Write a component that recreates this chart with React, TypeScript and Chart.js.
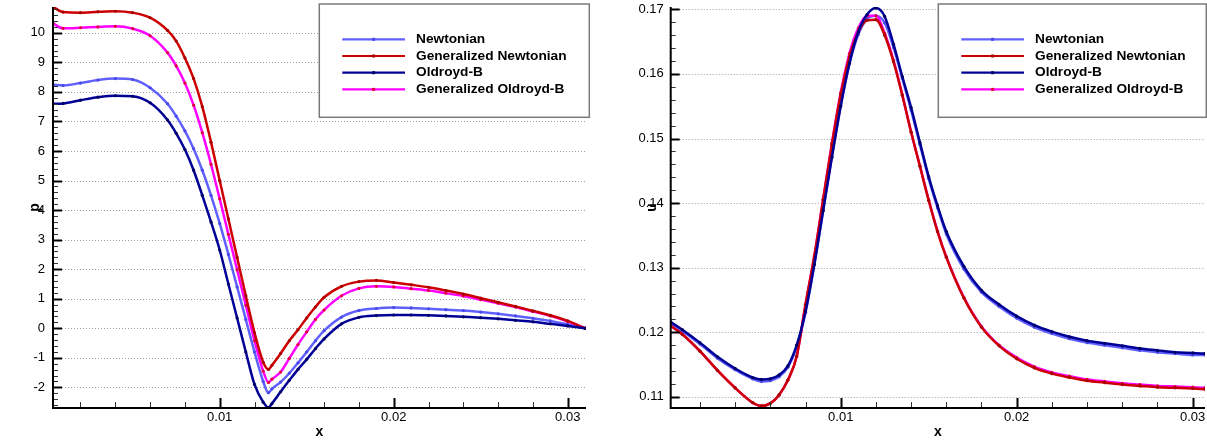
import { useEffect, useRef } from 'react';
import { Chart, registerables } from 'chart.js';

Chart.register(...registerables);

const FONT = '"Liberation Sans", Arial, Helvetica, sans-serif';

// ---------- series meta ----------
const seriesLabels = ['Newtonian', 'Generalized Newtonian', 'Oldroyd-B', 'Generalized Oldroyd-B'];
const lineColors = ['#6060ff', '#cc0000', '#000096', '#ff00ff'];
const markerColors = ['#4a4ae8', '#a80000', '#000066', '#e0003c'];
const drawOrder = [3, 1, 0, 2];

// ---------- left chart: pressure p ----------
const pX = [0.00042, 0.001, 0.002, 0.003, 0.004, 0.005, 0.006, 0.007, 0.0075, 0.008, 0.0085, 0.009, 0.0095, 0.01, 0.0105, 0.011, 0.0115, 0.012, 0.0125, 0.0128, 0.013, 0.0135, 0.014, 0.0145, 0.015, 0.0155, 0.016, 0.017, 0.018, 0.019, 0.02, 0.021, 0.022, 0.023, 0.024, 0.025, 0.026, 0.027, 0.028, 0.029, 0.03, 0.031];
const pNewtonian = [8.24, 8.22, 8.30, 8.40, 8.45, 8.42, 8.14, 7.60, 7.18, 6.68, 6.08, 5.35, 4.50, 3.55, 2.50, 1.40, 0.30, -0.80, -1.80, -2.18, -2.05, -1.82, -1.52, -1.17, -0.80, -0.42, -0.08, 0.38, 0.60, 0.67, 0.70, 0.69, 0.66, 0.63, 0.60, 0.55, 0.49, 0.42, 0.34, 0.25, 0.13, 0.0];
const pGenNewtonian = [10.88, 10.70, 10.68, 10.71, 10.73, 10.68, 10.51, 10.08, 9.72, 9.15, 8.45, 7.50, 6.30, 5.00, 3.70, 2.40, 1.10, -0.15, -1.15, -1.39, -1.25, -0.85, -0.42, -0.05, 0.35, 0.72, 1.05, 1.42, 1.58, 1.62, 1.55, 1.47, 1.39, 1.28, 1.16, 1.02, 0.88, 0.74, 0.59, 0.44, 0.25, 0.0];
const pOldroydB = [7.60, 7.61, 7.72, 7.82, 7.87, 7.85, 7.63, 7.05, 6.60, 6.05, 5.35, 4.50, 3.60, 2.65, 1.50, 0.35, -0.80, -1.90, -2.50, -2.68, -2.55, -2.15, -1.76, -1.39, -1.05, -0.69, -0.36, 0.15, 0.37, 0.43, 0.45, 0.45, 0.44, 0.42, 0.39, 0.36, 0.32, 0.27, 0.22, 0.15, 0.08, 0.0];
const pGenOldroydB = [10.32, 10.15, 10.17, 10.20, 10.22, 10.14, 9.90, 9.33, 8.88, 8.30, 7.55, 6.62, 5.55, 4.38, 3.18, 1.98, 0.78, -0.42, -1.45, -1.83, -1.72, -1.48, -1.02, -0.55, -0.12, 0.30, 0.62, 1.10, 1.35, 1.42, 1.40, 1.34, 1.28, 1.19, 1.09, 0.97, 0.85, 0.72, 0.57, 0.42, 0.23, 0.0];

// ---------- right chart: velocity u ----------
const uX = [0.00034, 0.001, 0.002, 0.003, 0.004, 0.005, 0.0055, 0.006, 0.0065, 0.007, 0.0075, 0.008, 0.0085, 0.009, 0.0095, 0.01, 0.0105, 0.011, 0.0115, 0.012, 0.0125, 0.013, 0.0135, 0.014, 0.0145, 0.015, 0.0155, 0.016, 0.017, 0.018, 0.019, 0.02, 0.021, 0.022, 0.023, 0.024, 0.025, 0.026, 0.027, 0.028, 0.029, 0.03, 0.0307];
const uNewtonian = [0.1214, 0.1202, 0.1182, 0.1160, 0.1142, 0.1128, 0.1124, 0.1125, 0.1131, 0.1146, 0.1178, 0.1231, 0.1305, 0.1388, 0.1472, 0.1551, 0.1616, 0.1661, 0.1685, 0.1690, 0.1679, 0.1641, 0.1593, 0.1544, 0.1491, 0.1438, 0.1393, 0.1352, 0.1298, 0.1262, 0.1240, 0.1222, 0.1208, 0.1198, 0.1190, 0.1184, 0.1180, 0.1176, 0.1172, 0.1169, 0.1167, 0.1165, 0.1165];
const uGenNewtonian = [0.1210, 0.1197, 0.1171, 0.1141, 0.1114, 0.1091, 0.1086, 0.1090, 0.1103, 0.1126, 0.1163, 0.1243, 0.1318, 0.1405, 0.1491, 0.1568, 0.1627, 0.1665, 0.1683, 0.1684, 0.1660, 0.1619, 0.1567, 0.1510, 0.1457, 0.1404, 0.1356, 0.1316, 0.1253, 0.1208, 0.1179, 0.1159, 0.1145, 0.1136, 0.1130, 0.1125, 0.1122, 0.1119, 0.1117, 0.1115, 0.1114, 0.1113, 0.1112];
const uOldroydB = [0.1216, 0.1204, 0.1184, 0.1162, 0.1144, 0.1130, 0.1127, 0.1128, 0.1134, 0.1148, 0.1180, 0.1232, 0.1305, 0.1388, 0.1471, 0.1550, 0.1617, 0.1665, 0.1692, 0.1702, 0.1689, 0.1646, 0.1596, 0.1548, 0.1494, 0.1441, 0.1396, 0.1356, 0.1302, 0.1265, 0.1243, 0.1225, 0.1211, 0.1201, 0.1193, 0.1187, 0.1183, 0.1179, 0.1175, 0.1172, 0.1169, 0.1168, 0.1167];
const uGenOldroydB = [0.1210, 0.1197, 0.1171, 0.1141, 0.1114, 0.1091, 0.1086, 0.1090, 0.1103, 0.1126, 0.1163, 0.1243, 0.1318, 0.1406, 0.1493, 0.1571, 0.1632, 0.1671, 0.1690, 0.1690, 0.1663, 0.1621, 0.1568, 0.1510, 0.1458, 0.1405, 0.1357, 0.1317, 0.1254, 0.1209, 0.1180, 0.1161, 0.1147, 0.1138, 0.1132, 0.1127, 0.1124, 0.1121, 0.1119, 0.1117, 0.1116, 0.1115, 0.1114];

// ---------- ticks ----------
const xMajorTicks = [0.01, 0.02, 0.03];
const xMinorStep = 0.002;
const pMajorTicks = [-2, -1, 0, 1, 2, 3, 4, 5, 6, 7, 8, 9, 10];
const pMinorStep = 0.2;
const uMajorTicks = [0.11, 0.12, 0.13, 0.14, 0.15, 0.16, 0.17];
const uMinorStep = 0.002;

const majorTicks = (list: number[]) => (scale: any) => {
  scale.ticks = list
    .filter((v) => v >= scale.min - 1e-12 && v <= scale.max + 1e-12)
    .map((v) => ({ value: v }));
};

const axesPlugin = {
  id: 'axesDecor',
  beforeDatasetsDraw(chart: any) {
    const { ctx, chartArea } = chart;
    const ys = chart.scales.y;
    ctx.save();
    ctx.strokeStyle = '#9c9c9c';
    ctx.lineWidth = 1;
    ctx.setLineDash([1, 2]);
    ys.ticks.forEach((t: any) => {
      const py = Math.round(ys.getPixelForValue(t.value)) + 0.5;
      ctx.beginPath();
      ctx.moveTo(chartArea.left, py);
      ctx.lineTo(chartArea.right, py);
      ctx.stroke();
    });
    ctx.restore();
  },
  afterDatasetsDraw(chart: any, _args: any, opts: any) {
    const { ctx, chartArea } = chart;
    const { left, right, top, bottom } = chartArea;
    const xs = chart.scales.x;
    const ys = chart.scales.y;
    const isMajor = (v: number, list: number[], step: number) => list.some((m) => Math.abs(m - v) < step / 10);
    const vals = (min: number, max: number, step: number) => {
      const out: number[] = [];
      for (let k = Math.ceil(min / step - 1e-6); k * step <= max + 1e-12; k++) out.push(k * step);
      return out;
    };
    ctx.save();
    ctx.setLineDash([]);
    vals(xs.min, xs.max, opts.xStep).forEach((v) => {
      const major = isMajor(v, opts.xMajor, opts.xStep);
      const px = Math.round(xs.getPixelForValue(v)) + 0.5;
      ctx.strokeStyle = major ? '#000' : '#333';
      ctx.lineWidth = major ? 2 : 1;
      ctx.beginPath();
      ctx.moveTo(px, bottom);
      ctx.lineTo(px, bottom - (major ? 10 : 6));
      ctx.stroke();
    });
    vals(ys.min, ys.max, opts.yStep).forEach((v) => {
      const major = isMajor(v, opts.yMajor, opts.yStep);
      const py = Math.round(ys.getPixelForValue(v)) + 0.5;
      ctx.strokeStyle = major ? '#000' : '#333';
      ctx.lineWidth = major ? 2 : 1;
      ctx.beginPath();
      ctx.moveTo(left, py);
      ctx.lineTo(left + (major ? 9 : 5), py);
      ctx.stroke();
    });
    ctx.strokeStyle = '#000';
    ctx.lineWidth = 2;
    ctx.beginPath();
    ctx.moveTo(left, top);
    ctx.lineTo(left, bottom);
    ctx.lineTo(right, bottom);
    ctx.stroke();
    ctx.restore();
  },
};

const boxLegendPlugin = {
  id: 'boxLegend',
  afterDraw(chart: any, _args: any, opts: any) {
    const { ctx } = chart;
    const { x, y, w, h } = opts;
    ctx.save();
    ctx.fillStyle = '#ffffff';
    ctx.fillRect(x, y, w, h);
    ctx.strokeStyle = '#7a7a7a';
    ctx.lineWidth = 1.5;
    ctx.strokeRect(x, y, w, h);
    chart.data.datasets.forEach((ds: any, i: number) => {
      const ry = y + 35.3 + i * 16.7;
      ctx.strokeStyle = ds.borderColor;
      ctx.lineWidth = 2.2;
      ctx.beginPath();
      ctx.moveTo(x + 23, ry);
      ctx.lineTo(x + 85.7, ry);
      ctx.stroke();
      ctx.fillStyle = ds.pointBackgroundColor;
      ctx.fillRect(x + 54.3 - 1.5, ry - 1.5, 3, 3);
      ctx.fillStyle = '#000';
      ctx.font = `bold 13.7px ${FONT}`;
      ctx.textAlign = 'left';
      ctx.textBaseline = 'middle';
      ctx.fillText(ds.label, x + 96.7, ry);
    });
    ctx.restore();
  },
};

function buildDatasets(xs: number[], series: number[][]) {
  return series.map((vals, i) => ({
    label: seriesLabels[i],
    data: xs.map((x, j) => ({ x, y: vals[j] })),
    borderColor: lineColors[i],
    backgroundColor: lineColors[i],
    pointBackgroundColor: markerColors[i],
    pointBorderWidth: 0,
    pointRadius: 1.6,
    pointHoverRadius: 0,
    borderWidth: 2.5,
    cubicInterpolationMode: 'monotone' as const,
    fill: false,
    order: drawOrder[i],
  }));
}

interface PanelProps {
  width: number;
  left: number;
  xs: number[];
  series: number[][];
  xMin: number;
  xMax: number;
  yMin: number;
  yMax: number;
  yMajor: number[];
  yStep: number;
  yTitle: string;
  yTitlePad: number;
  axisLeft: number;
  padRight: number;
  tickPad: number;
  yFormat: (v: number) => string;
  legendX: number;
  legendW: number;
}

function Panel(p: PanelProps) {
  const ref = useRef<HTMLCanvasElement | null>(null);
  useEffect(() => {
    if (!ref.current) return;
    const chart = new Chart(ref.current, {
      type: 'line',
      data: { datasets: buildDatasets(p.xs, p.series) as any },
      plugins: [axesPlugin, boxLegendPlugin],
      options: {
        responsive: false,
        animation: false,
        events: [],
        layout: { padding: { left: 0, top: 7, right: p.padRight, bottom: 0 } },
        plugins: {
          legend: { display: false },
          tooltip: { enabled: false },
          axesDecor: { xStep: xMinorStep, xMajor: xMajorTicks, yStep: p.yStep, yMajor: p.yMajor },
          boxLegend: { x: p.legendX, y: 4, w: p.legendW, h: 113.3 },
        } as any,
        scales: {
          x: {
            type: 'linear',
            min: p.xMin,
            max: p.xMax,
            grid: { display: false, drawTicks: false },
            border: { display: false },
            afterBuildTicks: majorTicks(xMajorTicks),
            afterFit: (s: any) => {
              s.height = 34;
              s.paddingLeft = 0;
              s.paddingRight = 0;
            },
            ticks: {
              autoSkip: false,
              maxRotation: 0,
              padding: 2,
              color: '#000',
              font: { family: FONT, size: 13 },
              callback: (v: any) => Number(v).toFixed(2),
            },
            title: {
              display: true,
              text: 'x',
              color: '#000',
              font: { family: FONT, size: 14, weight: 'bold' },
              padding: { top: 0, bottom: 1.6 },
            },
          },
          y: {
            type: 'linear',
            min: p.yMin,
            max: p.yMax,
            grid: { display: false, drawTicks: false },
            border: { display: false },
            afterBuildTicks: majorTicks(p.yMajor),
            afterFit: (s: any) => {
              s.width = p.axisLeft;
              s.paddingTop = 0;
              s.paddingBottom = 0;
            },
            ticks: {
              autoSkip: false,
              padding: p.tickPad,
              color: '#000',
              font: { family: FONT, size: 13 },
              callback: (v: any) => p.yFormat(Number(v)),
            },
            title: {
              display: true,
              text: p.yTitle,
              color: '#000',
              font: { family: FONT, size: 14, weight: 'bold' },
              padding: { top: p.yTitlePad, bottom: 0 },
            },
          },
        },
      } as any,
    });
    return () => chart.destroy();
  }, []);
  return (
    <canvas
      ref={ref}
      width={p.width}
      height={442}
      style={{ position: 'absolute', left: p.left, top: 0, width: p.width, height: 442, display: 'block' }}
    />
  );
}

export default function App() {
  return (
    <div style={{ position: 'absolute', left: 0, top: 0, width: 1207, height: 442, background: '#fff', overflow: 'hidden' }}>
      <Panel
        width={600}
        left={0}
        xs={pX}
        series={[pNewtonian, pGenNewtonian, pOldroydB, pGenOldroydB]}
        xMin={0.00042}
        xMax={0.03105}
        yMin={-2.697}
        yMax={10.873}
        yMajor={pMajorTicks}
        yStep={pMinorStep}
        yTitle="p"
        yTitlePad={26.6}
        axisLeft={53}
        padRight={14}
        tickPad={8}
        yFormat={(v) => String(Math.round(v))}
        legendX={319.3}
        legendW={270}
      />
      <Panel
        width={607}
        left={600}
        xs={uX}
        series={[uNewtonian, uGenNewtonian, uOldroydB, uGenOldroydB]}
        xMin={0.00034}
        xMax={0.0307}
        yMin={0.10828}
        yMax={0.17036}
        yMajor={uMajorTicks}
        yStep={uMinorStep}
        yTitle="u"
        yTitlePad={43.6}
        axisLeft={70.7}
        padRight={2}
        tickPad={7}
        yFormat={(v) => v.toFixed(2)}
        legendX={338.3}
        legendW={268}
      />
    </div>
  );
}
